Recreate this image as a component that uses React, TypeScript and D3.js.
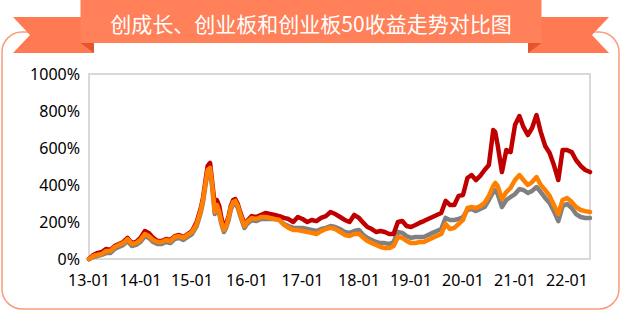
import React from 'react';
import * as d3 from 'd3';

const dates: string[] = [
  '2013-01-01','2013-02-01','2013-03-01','2013-04-01','2013-05-01','2013-06-01','2013-07-01','2013-08-01','2013-09-01','2013-10-01','2013-11-01','2013-12-01',
  '2014-01-01','2014-02-01','2014-03-01','2014-04-01','2014-05-01','2014-06-01','2014-07-01','2014-08-01','2014-09-01','2014-10-01','2014-11-01','2014-12-01',
  '2015-01-01','2015-02-01','2015-03-01','2015-03-15','2015-04-01','2015-04-15','2015-05-01','2015-05-15','2015-06-01','2015-06-15','2015-07-01','2015-07-15',
  '2015-08-01','2015-08-15','2015-09-01','2015-09-15','2015-10-01','2015-10-15','2015-11-01','2015-11-15','2015-12-01','2015-12-15',
  '2016-01-01','2016-02-01','2016-03-01','2016-04-01','2016-05-01','2016-06-01','2016-07-01','2016-08-01','2016-09-01','2016-10-01','2016-11-01','2016-12-01',
  '2017-01-01','2017-02-01','2017-03-01','2017-04-01','2017-05-01','2017-06-01','2017-07-01','2017-08-01','2017-09-01','2017-10-01','2017-11-01','2017-12-01',
  '2018-01-01','2018-02-01','2018-03-01','2018-04-01','2018-05-01','2018-06-01','2018-07-01','2018-08-01','2018-09-01','2018-10-01','2018-11-01','2018-12-01',
  '2019-01-01','2019-02-01','2019-03-01','2019-04-01','2019-05-01','2019-06-01','2019-07-01','2019-08-01','2019-09-01','2019-10-01','2019-11-01','2019-12-01',
  '2020-01-01','2020-02-01','2020-03-01','2020-04-01','2020-05-01','2020-06-01','2020-07-01','2020-08-01','2020-08-15','2020-09-01','2020-10-01','2020-11-01','2020-12-01',
  '2021-01-01','2021-02-01','2021-03-01','2021-04-01','2021-05-01','2021-06-01','2021-07-01','2021-08-01','2021-09-01','2021-10-01','2021-11-01','2021-12-01',
  '2022-01-01','2022-02-01','2022-03-01','2022-04-01','2022-05-01','2022-06-01',
];

// 创成长 (red)
const cyGrowth: number[] = [
  0, 22, 32, 38, 54, 49, 70, 81, 92, 114, 86, 92,
  114, 151, 141, 114, 97, 97, 108, 103, 124, 130, 119, 135,
  151, 200, 276, 330, 427, 503, 519, 416, 292, 319, 286, 222, 168, 189, 232, 286, 319, 324, 297, 259, 222, 189,
  205, 232, 227, 238, 249, 243, 238, 232, 222, 216, 200, 227,
  216, 200, 211, 205, 222, 232, 254, 243, 227, 211, 200, 238,
  222, 195, 173, 162, 146, 151, 146, 135, 135, 200, 205, 178,
  173, 184, 195, 205, 216, 227, 238, 249, 314, 292, 292, 341,
  346, 438, 454, 427, 449, 481, 508, 697, 686, 616, 470, 589, 578,
  724, 773, 714, 670, 708, 778, 686, 611, 573, 508, 427, 589,
  589, 578, 535, 503, 481, 470,
];

// 创业板 (gray)
const chiNext: number[] = [
  0, 11, 16, 22, 32, 32, 54, 65, 76, 97, 70, 76,
  92, 124, 114, 92, 81, 81, 92, 86, 108, 114, 103, 119,
  135, 178, 254, 308, 400, 470, 476, 389, 243, 281, 243, 189, 146, 168, 211, 265, 297, 303, 276, 238, 200, 168,
  189, 211, 205, 216, 216, 216, 216, 211, 189, 178, 168, 168,
  168, 162, 157, 151, 162, 168, 178, 173, 162, 146, 141, 151,
  157, 130, 114, 103, 92, 86, 86, 81, 92, 146, 141, 124,
  114, 119, 119, 119, 130, 141, 151, 162, 222, 211, 211, 216,
  227, 265, 270, 259, 270, 281, 319, 362, 373, 351, 281, 319, 335,
  351, 378, 373, 357, 368, 389, 362, 330, 303, 259, 205, 286,
  297, 276, 243, 227, 222, 222,
];

// 创业板50 (orange)
const chiNext50: number[] = [
  0, 16, 22, 27, 43, 43, 65, 76, 86, 108, 81, 86,
  103, 135, 124, 103, 92, 92, 103, 97, 119, 124, 114, 130,
  146, 189, 265, 319, 411, 481, 492, 400, 254, 292, 254, 200, 157, 178, 222, 276, 308, 314, 286, 249, 211, 178,
  200, 222, 216, 227, 227, 222, 216, 211, 184, 168, 157, 157,
  151, 146, 141, 135, 151, 162, 168, 162, 146, 130, 124, 135,
  135, 114, 97, 86, 76, 65, 59, 59, 70, 119, 114, 97,
  86, 86, 92, 92, 103, 114, 124, 135, 189, 162, 168, 189,
  211, 276, 281, 276, 286, 303, 341, 395, 411, 395, 324, 362, 384,
  427, 454, 427, 400, 416, 443, 400, 373, 341, 292, 243, 319,
  330, 308, 281, 265, 259, 254,
];

const yTicks: number[] = [0, 200, 400, 600, 800, 1000];
const xTickLabels: string[] = ['13-01', '14-01', '15-01', '16-01', '17-01', '18-01', '19-01', '20-01', '21-01', '22-01'];
const xTickDates: string[] = ['2013-01-01', '2014-01-01', '2015-01-01', '2016-01-01', '2017-01-01', '2018-01-01', '2019-01-01', '2020-01-01', '2021-01-01', '2022-01-01'];
const title = '创成长、创业板和创业板50收益走势对比图';

export default function App() {
  const W = 622, H = 314;
  const parse = d3.timeParse('%Y-%m-%d');
  const left = 89, right = 590, top = 74, bottom = 259;
  const tickPos = [89, 140.5, 192, 247, 302.5, 359, 411, 463, 515, 567, right];
  const x = d3.scaleTime()
    .domain([...xTickDates.map((d) => parse(d) as Date), parse(dates[dates.length - 1]) as Date])
    .range(tickPos);
  const y = d3.scaleLinear().domain([0, 1000]).range([bottom, top]);
  const parsed = dates.map((d) => parse(d) as Date);
  const line = (vals: number[]) =>
    d3.line<number>().x((_, i) => x(parsed[i])).y((v) => y(v))(vals) || '';

  const series = [
    { vals: chiNext, color: '#808080' },
    { vals: cyGrowth, color: '#C00000' },
    { vals: chiNext50, color: '#FF8000' },
  ];
  const font = '"Noto Sans", "Open Sans", sans-serif';

  return (
    <svg width={W} height={H} style={{ position: 'absolute', left: 0, top: 0, display: 'block', background: '#fff' }}>
      {/* outer frame */}
      <rect x={2} y={32} width={617} height={277} rx={20} ry={20} fill="#fff" stroke="#FA9C7C" strokeWidth={1.5} />
      {/* ribbon tails */}
      <polygon points="13,17 94,17 94,53 13,53 30,35" fill="#FF7A52" />
      <polygon points="609,17 528,17 528,53 609,53 592,35" fill="#FF7A52" />
      <polygon points="80.5,43 94,43 94,53" fill="#E4552C" />
      <polygon points="541.5,43 528,43 528,53" fill="#E4552C" />
      <rect x={80.5} y={0} width={461} height={43} fill="#FF8059" />
      <text x={311} y={23} textAnchor="middle" dominantBaseline="central" fill="#fff"
        style={{ fontFamily: '"Noto Sans CJK SC", sans-serif', fontSize: 21 }}>{title}</text>

      {/* plot border */}
      <rect x={left} y={top} width={right - left} height={bottom - top} fill="none" stroke="#D9D9D9" strokeWidth={2} />

      {/* y axis labels */}
      {yTicks.map((t) => (
        <text key={t} x={80} y={y(t)} textAnchor="end" dominantBaseline="central" fill="#000"
          style={{ fontFamily: font, fontSize: 16 }}>{t}%</text>
      ))}
      {/* x axis labels */}
      {xTickDates.map((d, i) => (
        <text key={d} x={x(parse(d) as Date)} y={280} textAnchor="middle" dominantBaseline="central" fill="#000"
          style={{ fontFamily: font, fontSize: 16 }}>{xTickLabels[i]}</text>
      ))}

      {/* lines */}
      {series.map((s, i) => (
        <path key={i} d={line(s.vals)} fill="none" stroke={s.color} strokeWidth={4.5}
          strokeLinejoin="round" strokeLinecap="round" />
      ))}
    </svg>
  );
}
